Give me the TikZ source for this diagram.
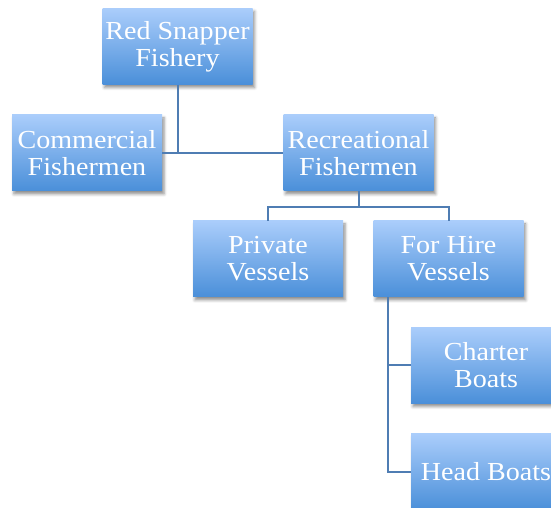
\documentclass[tikz,border=0pt]{standalone}
\usepackage{fontspec}
\setmainfont[FakeStretch=1.08]{Liberation Serif}
\usetikzlibrary{shadows.blur}

\begin{document}
\begin{tikzpicture}[x=1pt,y=1pt,
  box/.style={minimum width=150pt, minimum height=76pt, inner sep=0pt,
    align=center, text=white, top color=boxtop, bottom color=boxbot,
    blur shadow={shadow xshift=2pt, shadow yshift=-3pt, shadow blur radius=3pt, shadow opacity=45},
    font=\fontsize{26}{27}\selectfont},
  link/.style={draw=linkblue, line width=2pt}]

% box shading and connector colours
\definecolor{boxtop}{HTML}{AACDFB}
\definecolor{boxbot}{HTML}{4A8FD9}
\definecolor{linkblue}{HTML}{4F7DB3}

\useasboundingbox (0,0) rectangle (551,508);
\clip (0,0) rectangle (551,508);

\node [box] at (177.5,461.5) (fishery) {Red Snapper\\Fishery};
\node [box] at (87,355) (commercial) {Commercial\\Fishermen};
\node [box] at (358.5,355) (recreational) {Recreational\\Fishermen};
%% recreational branch
\node [box] at (268,249) (private) {Private\\Vessels};
\node [box] at (448.5,249) (forhire) {For Hire\\Vessels};
%% for hire branch
\node [box] at (486,142.5) (charter) {Charter\\Boats};
\node [box] at (486,36) (head) {Head Boats};

\draw[link] (fishery.south) -- (fishery.south |- commercial.east);
\draw[link] (commercial.east) -- (recreational.west);
\draw[link] (recreational.south) -- ++(0,-16) -| (private.north);
\draw[link] (recreational.south) -- ++(0,-16) -| (forhire.north);
\coordinate (trunk) at ([xshift=15pt]forhire.south west);
\draw[link] (trunk) |- (charter.west);
\draw[link] (trunk) |- (head.west);
\end{tikzpicture}
\end{document}
